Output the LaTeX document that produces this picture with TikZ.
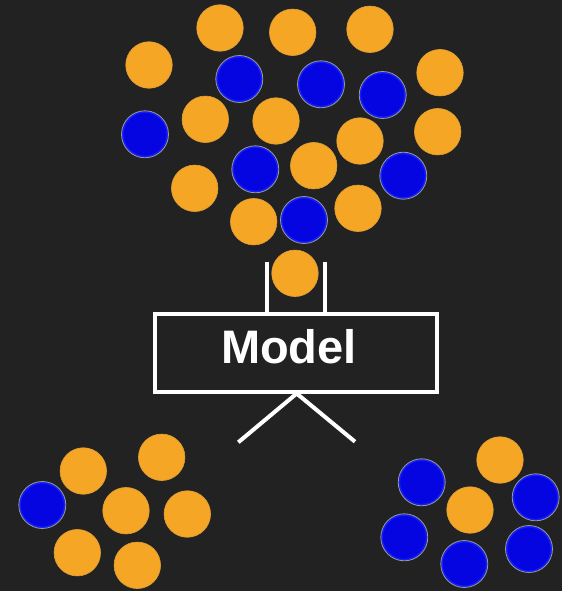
\documentclass[tikz,border=0pt]{standalone}
\usepackage{fontspec}
\setmainfont{Liberation Sans}
\definecolor{bg}{RGB}{34,34,34}
\definecolor{org}{RGB}{245,166,37}
\definecolor{blu}{RGB}{5,5,225}
\definecolor{blurim}{RGB}{20,30,245}
\begin{document}
\begin{tikzpicture}[x=1pt,y=-1pt,
  ob/.style={circle,fill=org,draw=org!80!gray,line width=0.6pt,minimum size=46.5pt,inner sep=0pt},
  bb/.style={circle,fill=blu,draw=blurim,line width=2pt,minimum size=45pt,inner sep=0pt},
  bbo/.style={circle,draw=gray!80,line width=0.8pt,minimum size=47pt,inner sep=0pt},
  wline/.style={white,line width=4pt},
  modelbox/.style={draw=white,line width=4pt,fill=bg,minimum width=282.5pt,minimum height=78pt},
  modeltext/.style={font=\bfseries\fontsize{47}{50}\selectfont,text=white,inner sep=0pt}]
\fill[bg] (0,0) rectangle (562,591);
\useasboundingbox (0,0) rectangle (562,591);
% top cluster
\node[ob] (t1) at (220,28) {};
\node[ob] (t2) at (292.7,32.3) {};
\node[ob] (t3) at (370,29.3) {};
\node[ob] (t4) at (149,65) {};
\node[bb] (t5) at (239.3,79) {};
\node[bb] (t6) at (321,84.3) {};
\node[bb] (t7) at (382.7,95) {};
\node[ob] (t8) at (440,72.7) {};
\node[bb] (t9) at (145,134.3) {};
\node[ob] (t10) at (205.3,119.3) {};
\node[ob] (t11) at (276,121) {};
\node[ob] (t12) at (360,141) {};
\node[ob] (t13) at (437.7,131.7) {};
\node[bb] (t14) at (255.3,169.3) {};
\node[ob] (t15) at (313.7,165.7) {};
\node[bb] (t16) at (403.3,175.7) {};
\node[ob] (t17) at (194.7,188.3) {};
\node[ob] (t18) at (253.7,221.7) {};
\node[bb] (t19) at (304,220) {};
\node[ob] (t20) at (358,208.3) {};
% outlines for blue
\foreach \n in {t5,t6,t7,t9,t14,t16,t19}{\node[bbo] at (\n) {};}
% model
\node[modelbox] (model) at (295.8,352.5) {};
\node[modeltext] (label) at (289,347) {Model};
\coordinate (vl) at (266.7,261.7);
\coordinate (vr) at (325.3,261.7);
\draw[wline] (vl) -- (vl |- model.north);
\draw[wline] (vr) -- (vr |- model.north);
\node[ob] (in) at (295,273.3) {};
\coordinate (dl) at (238.3,442.3);
\coordinate (dr) at (355,441.7);
\coordinate (apex) at (296.7,393.5);
\draw[wline] (apex) -- (dl);
\draw[wline] (apex) -- (dr);
% bottom left
\node[bb] (l1) at (42.3,505) {};
\node[bbo] at (l1) {};
\node[ob] (l2) at (83.3,471) {};
\node[ob] (l3) at (161.7,457.3) {};
\node[ob] (l4) at (126,510.7) {};
\node[ob] (l5) at (187.3,514) {};
\node[ob] (l6) at (77.3,552.7) {};
\node[ob] (l7) at (137.3,565.3) {};
% bottom right
\node[bb] (r1) at (421.7,482.3) {};
\node[ob] (r2) at (500,460) {};
\node[ob] (r3) at (470,510) {};
\node[bb] (r4) at (535.7,497.3) {};
\node[bb] (r5) at (404.3,537.3) {};
\node[bb] (r6) at (464.3,564) {};
\node[bb] (r7) at (529,549) {};
\foreach \n in {r1,r4,r5,r6,r7}{\node[bbo] at (\n) {};}
\end{tikzpicture}
\end{document}
